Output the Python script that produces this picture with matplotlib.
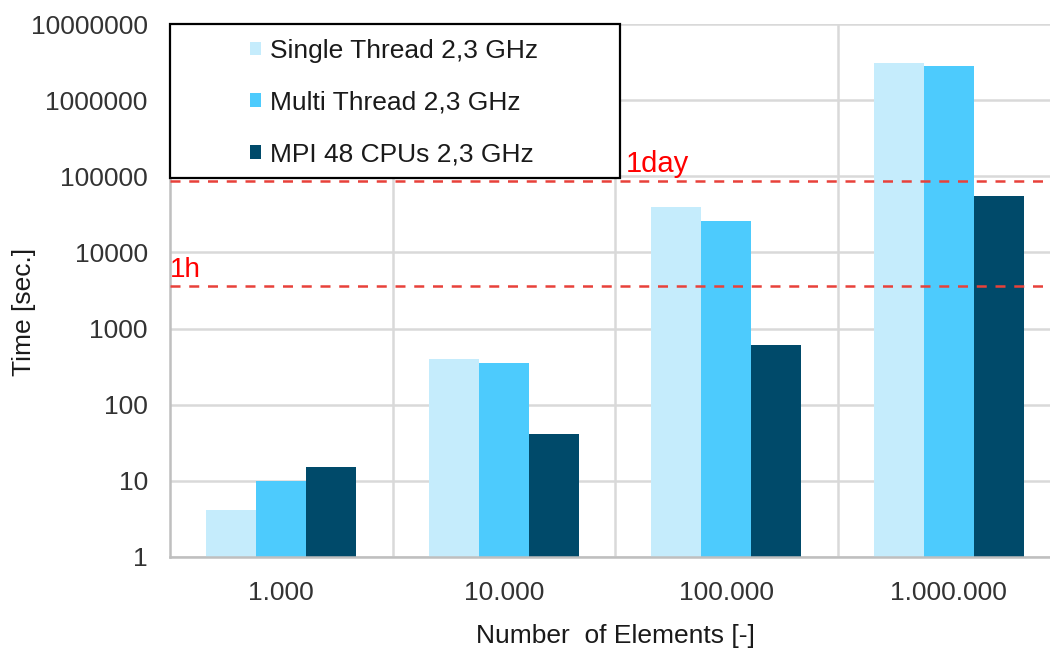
import numpy as np
import matplotlib
matplotlib.use("Agg")
import matplotlib.pyplot as plt
from matplotlib.patches import Rectangle
from matplotlib.ticker import FixedLocator, NullFormatter

plt.rcParams['font.family'] = ['Liberation Sans', 'DejaVu Sans']

# data
elements = ["1.000", "10.000", "100.000", "1.000.000"]
single_thread = [4.1, 400, 40000, 3050000]
multi_thread = [10, 355, 25500, 2800000]
mpi_48 = [15, 41, 610, 54500]
series_names = ["Single Thread 2,3 GHz", "Multi Thread 2,3 GHz", "MPI 48 CPUs 2,3 GHz"]
colors = ["#C5ECFC", "#4DCBFD", "#004A6A"]
one_hour = 3600
one_day = 86400

fig = plt.figure(figsize=(10.5, 6.53), dpi=100)
ax = fig.add_axes([170/1050, 96/653, 890/1050, 533/653])

x = np.arange(len(elements))
w = 0.225
for i, (vals, name, c) in enumerate(zip([single_thread, multi_thread, mpi_48], series_names, colors)):
    ax.bar(x + (i - 1) * w, vals, w, color=c, label=name, zorder=2)

ax.set_yscale('log')
ax.set_ylim(1, 1e7)
ax.set_xlim(-0.5, len(elements) - 0.5)
ax.set_yticks([10**k for k in range(8)])
ax.set_yticklabels([str(10**k) for k in range(8)])
ax.yaxis.set_minor_locator(FixedLocator([]))
ax.yaxis.set_minor_formatter(NullFormatter())
ax.set_xticks(x)
ax.set_xticklabels(elements)
ax.xaxis.set_minor_locator(FixedLocator(np.arange(0.5, len(elements) - 0.5, 1)))
ax.tick_params(axis='both', which='both', length=0, labelsize=19, colors='#333333')
ax.tick_params(axis='y', pad=16)
ax.tick_params(axis='x', pad=17)
ax.grid(True, axis='y', color='#D9D9D9', lw=1.8, zorder=0)
ax.grid(True, axis='x', which='minor', color='#D9D9D9', lw=1.8, zorder=0)
ax.set_axisbelow(True)
for s in ['top', 'right']:
    ax.spines[s].set_visible(False)
for s in ['left', 'bottom']:
    ax.spines[s].set_color('#BFBFBF')
    ax.spines[s].set_linewidth(1.8)

# reference lines
ax.axhline(one_hour, color='#E8413A', ls=(0, (4, 3.5)), lw=1.8, zorder=3)
ax.axhline(one_day, color='#E8413A', ls=(0, (4, 3.5)), lw=1.8, zorder=3)
ax.text(0.0, one_hour * 1.1, "1h", color='red', fontsize=20, transform=ax.get_yaxis_transform(), va='bottom')
ax.text(0.512, one_day * 1.1, "1day", color='red', fontsize=21, transform=ax.get_yaxis_transform(), va='bottom')

ax.set_xlabel("Number  of Elements [-]", fontsize=19, color='#1a1a1a', labelpad=14)
ax.set_ylabel("Time [sec.]", fontsize=19, color='#1a1a1a')
ax.yaxis.set_label_coords(-0.15, 0.46)

# legend box
ax.add_patch(Rectangle((0, 0.711), 0.506, 0.289, transform=ax.transAxes, facecolor='white',
                       edgecolor='black', lw=1.6, zorder=5, clip_on=False))
leg = ax.legend(loc='upper left', bbox_to_anchor=(0.0755, 0.997), frameon=False, fontsize=19,
                handlelength=0.42, handleheight=0.42, handletextpad=0.34, labelspacing=1.05,
                borderpad=0)
leg.set_zorder(6)
for t in leg.get_texts():
    t.set_color('#1a1a1a')

fig.savefig("out.png", dpi=100)
